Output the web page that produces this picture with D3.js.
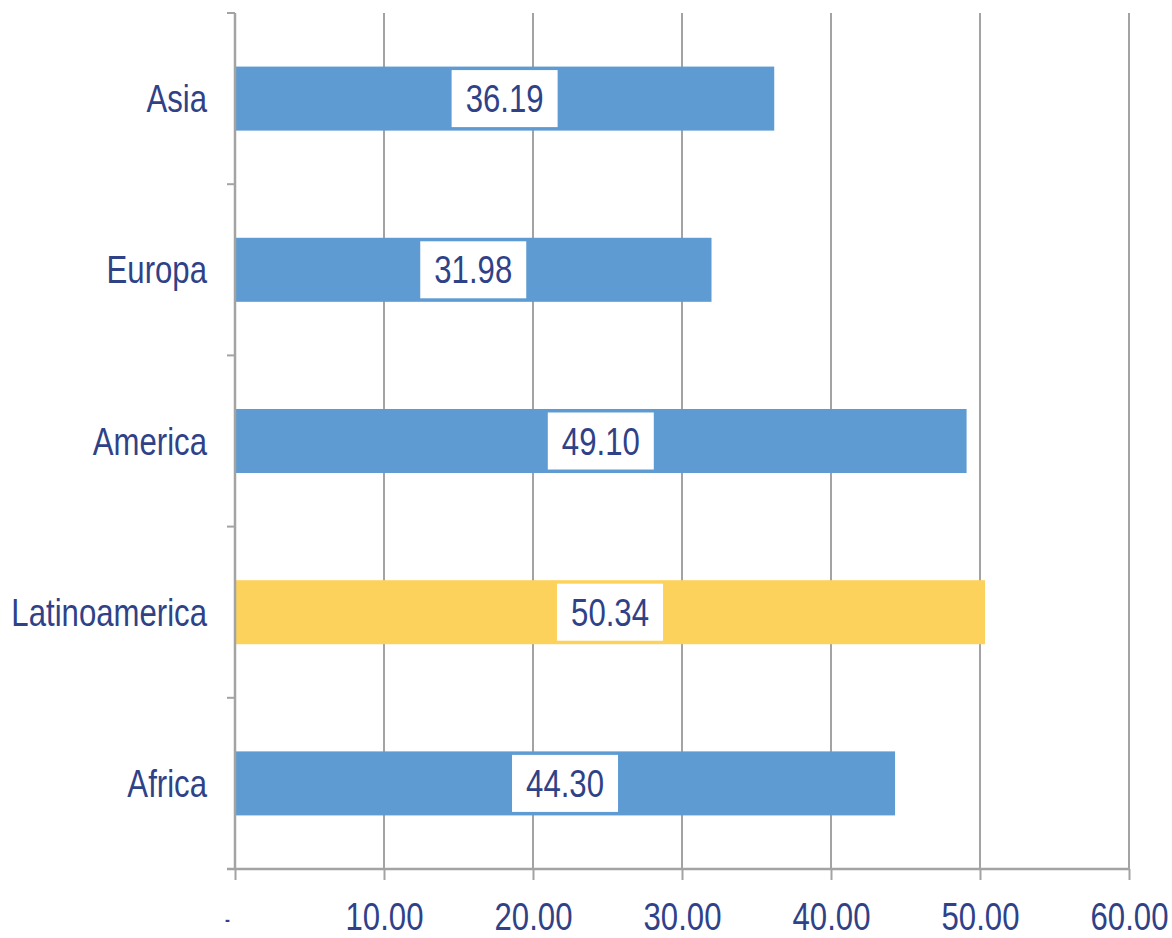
<!DOCTYPE html>
<html>
<head>
<meta charset="utf-8">
<script src="https://cdn.jsdelivr.net/npm/d3@7"></script>
<style>
  html, body { margin: 0; padding: 0; background: #ffffff; }
  svg { display: block; }
  text { font-family: "Liberation Sans", Arial, sans-serif; }
</style>
</head>
<body>
<svg id="chart" width="1172" height="938"></svg>
<script>
const categories = ["Asia", "Europa", "America", "Latinoamerica", "Africa"];
const values = [36.19, 31.98, 49.10, 50.34, 44.30];
const highlight = ["Latinoamerica"];
const tickValues = [0, 10, 20, 30, 40, 50, 60];
const tickLabels = ["-", "10.00", "20.00", "30.00", "40.00", "50.00", "60.00"];

(function () {
const mLeft = 235, mRight = 1129, mTop = 13, mBottom = 869;
const textColor = "#2f4288";
const gridColor = "#a3a3a3";
const sx = 0.82;

const svg = d3.select("#chart");

const x = d3.scaleLinear().domain([0, 60]).range([mLeft, mRight]);
const y = d3.scaleBand().domain(categories).range([mTop, mBottom])
  .paddingInner(0.626).paddingOuter(0.313);

// vertical gridlines
svg.append("g").selectAll("line").data(tickValues.filter(d => d > 0)).join("line")
  .attr("x1", d => x(d)).attr("x2", d => x(d))
  .attr("y1", mTop).attr("y2", mBottom)
  .attr("stroke", gridColor).attr("stroke-width", 2);

// bars
svg.append("g").selectAll("rect").data(categories).join("rect")
  .attr("x", x(0))
  .attr("y", d => y(d))
  .attr("width", (d, i) => x(values[i]) - x(0))
  .attr("height", y.bandwidth())
  .attr("fill", d => highlight.includes(d) ? "#fdd25c" : "#5d9bd2");

// x axis
const xAxis = d3.axisBottom(x).tickValues(tickValues)
  .tickFormat((d, i) => tickLabels[i]).tickSize(11).tickPadding(0);
const gx = svg.append("g").attr("transform", `translate(0,${mBottom})`).call(xAxis);
gx.select(".domain").remove();
gx.append("line").attr("x1", mLeft - 8).attr("x2", mRight).attr("y1", 0).attr("y2", 0)
  .attr("stroke", gridColor).attr("stroke-width", 2.5);
gx.selectAll(".tick line").attr("stroke", gridColor).attr("stroke-width", 2);
gx.selectAll(".tick text")
  .attr("fill", textColor)
  .attr("font-size", (d, i) => i === 0 ? 18 : 38)
  .attr("font-weight", (d, i) => i === 0 ? "bold" : "normal")
  .attr("y", 0)
  .attr("dy", 0)
  .attr("text-anchor", "middle")
  .attr("transform", (d, i) => `translate(${i === 0 ? -8 : 0},${i === 0 ? 57 : 61}) scale(${sx},1)`);

// y axis line and boundary ticks
svg.append("line").attr("x1", mLeft).attr("x2", mLeft).attr("y1", mTop).attr("y2", mBottom)
  .attr("stroke", gridColor).attr("stroke-width", 2.5);
const bounds = d3.range(categories.length + 1).map(i => mTop + i * y.step());
svg.append("g").selectAll("line").data(bounds).join("line")
  .attr("x1", mLeft - 8).attr("x2", mLeft)
  .attr("y1", d => d).attr("y2", d => d)
  .attr("stroke", gridColor).attr("stroke-width", 2);

// category labels
const yAxis = d3.axisLeft(y).tickSize(0).tickPadding(0);
const gy = svg.append("g").attr("transform", `translate(${mLeft - 28},0)`).call(yAxis);
gy.select(".domain").remove();
gy.selectAll(".tick text")
  .attr("fill", textColor)
  .attr("font-size", 38)
  .attr("x", 0)
  .attr("dy", "0.36em")
  .attr("text-anchor", "end")
  .attr("transform", `scale(${sx},1)`);

// data labels with white boxes
const lab = svg.append("g").selectAll("g").data(categories).join("g")
  .attr("transform", (d, i) => `translate(${x(values[i] / 2)},${y(d) + y.bandwidth() / 2})`);
lab.append("rect")
  .attr("x", -53).attr("width", 106)
  .attr("y", -(y.bandwidth() - 7) / 2).attr("height", y.bandwidth() - 7)
  .attr("fill", "#ffffff");
lab.append("text")
  .attr("text-anchor", "middle")
  .attr("dy", "0.36em")
  .attr("font-size", 38)
  .attr("fill", textColor)
  .attr("transform", `scale(${sx},1)`)
  .text((d, i) => values[i].toFixed(2));
})();
</script>
</body>
</html>
